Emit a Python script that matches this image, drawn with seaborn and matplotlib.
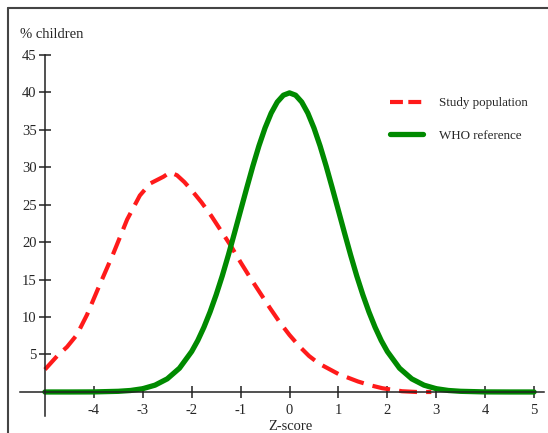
import seaborn as sns
import pandas as pd
import matplotlib.pyplot as plt
from matplotlib.lines import Line2D

# Study population
study_z = [-5.0, -4.75, -4.55, -4.35, -4.14, -3.9, -3.6, -3.32, -3.06, -2.85, -2.7, -2.58, -2.44,
           -2.3, -2.15, -2.0, -1.8, -1.6, -1.4, -1.2, -1.0, -0.8, -0.6, -0.4, -0.2, 0.0, 0.2, 0.4,
           0.6, 0.8, 1.0, 1.2, 1.4, 1.65, 1.9, 2.1, 2.3, 2.6, 2.9]
study_pct = [3.0, 4.8, 6.0, 7.6, 10.3, 14.0, 18.5, 23.0, 26.2, 27.8, 28.3, 28.7, 29.3,
             28.9, 28.0, 26.9, 25.3, 23.5, 21.5, 19.5, 17.3, 15.2, 13.2, 11.2, 9.3, 7.6, 6.1, 4.8,
             3.8, 3.1, 2.4, 1.9, 1.4, 0.9, 0.5, 0.3, 0.1, 0.0, 0.0]

# WHO reference
who_z = [-5.0, -4.5, -4.0, -3.5, -3.25, -3.0, -2.75, -2.5, -2.25, -2.0, -1.875, -1.75, -1.625,
         -1.5, -1.375, -1.25, -1.125, -1.0, -0.875, -0.75, -0.625, -0.5, -0.375, -0.25, -0.125,
         0.0, 0.125, 0.25, 0.375, 0.5, 0.625, 0.75, 0.875, 1.0, 1.125, 1.25, 1.375, 1.5, 1.625,
         1.75, 1.875, 2.0, 2.25, 2.5, 2.75, 3.0, 3.25, 3.5, 4.0, 4.5, 5.0]
who_pct = [0.0, 0.0, 0.01, 0.09, 0.2, 0.44, 0.91, 1.75, 3.17, 5.40, 6.87, 8.63, 10.66,
           12.95, 15.48, 18.26, 21.20, 24.20, 27.19, 30.11, 32.82, 35.21, 37.19, 38.67, 39.58,
           39.89, 39.58, 38.67, 37.19, 35.21, 32.82, 30.11, 27.19, 24.20, 21.20, 18.26, 15.48, 12.95, 10.66,
           8.63, 6.87, 5.40, 3.17, 1.75, 0.91, 0.44, 0.2, 0.09, 0.01, 0.0, 0.0]

x_ticks = [-4, -3, -2, -1, 0, 1, 2, 3, 4, 5]
y_ticks = [5, 10, 15, 20, 25, 30, 35, 40, 45]

study_df = pd.DataFrame({'z': study_z, 'pct': study_pct})
who_df = pd.DataFrame({'z': who_z, 'pct': who_pct})

sns.set_style('white')
plt.rcParams['font.family'] = ['Liberation Serif', 'DejaVu Serif']
plt.rcParams['axes.unicode_minus'] = False

fig = plt.figure(figsize=(5.48, 4.33), dpi=100)
ax = fig.add_axes([0.0374, 0.0393, 0.955, 0.8347])

red = '#ff1a1a'
green = '#008a00'
sns.lineplot(data=study_df, x='z', y='pct', ax=ax, color=red, lw=3, sort=False,
             linestyle=(0, (4.3, 2.2)))
sns.lineplot(data=who_df, x='z', y='pct', ax=ax, color=green, lw=3.8, sort=False)

ax.set_xlim(-5.5, 5.2)
ax.set_ylim(-3.2, 45)
ax.spines['left'].set_position(('data', -5))
ax.spines['bottom'].set_position(('data', 0))
ax.spines['top'].set_visible(False)
ax.spines['right'].set_visible(False)
for s in ['left', 'bottom']:
    ax.spines[s].set_color('#222222')
    ax.spines[s].set_linewidth(1.1)
ax.set_xticks(x_ticks)
ax.set_yticks(y_ticks)
ax.tick_params(axis='both', direction='inout', length=8, width=1.1, color='#222222',
               labelsize=10.5, pad=2, bottom=True, left=True)
ax.tick_params(axis='x', pad=5)
ax.set_xlabel('')
ax.set_ylabel('')
ax.set_facecolor('none')

fig.text(20 / 548, 1 - 35 / 433, '% children', fontsize=10.5, va='center', ha='left')
fig.text(290 / 548, 1 - 427 / 433, 'Z-score', fontsize=10.5, va='center', ha='center')

handles = [Line2D([], [], color=red, lw=3, linestyle=(0, (3.1, 1.3))),
           Line2D([], [], color=green, lw=3.8)]
fig.legend(handles, ['Study population', 'WHO reference'], loc='upper left',
           bbox_to_anchor=(390 / 548, 1 - 97 / 433), frameon=False, fontsize=9.4,
           handlelength=2.5, handletextpad=1.25, labelspacing=1.55,
           borderpad=0, borderaxespad=0)

# frame around the picture
fig.add_artist(Line2D([8 / 548, 8 / 548], [0, 1 - 8 / 433], transform=fig.transFigure,
                      color='#444444', lw=1.5))
fig.add_artist(Line2D([8 / 548, 1], [1 - 8 / 433, 1 - 8 / 433], transform=fig.transFigure,
                      color='#444444', lw=1.5))

fig.savefig('out.png', dpi=100)
